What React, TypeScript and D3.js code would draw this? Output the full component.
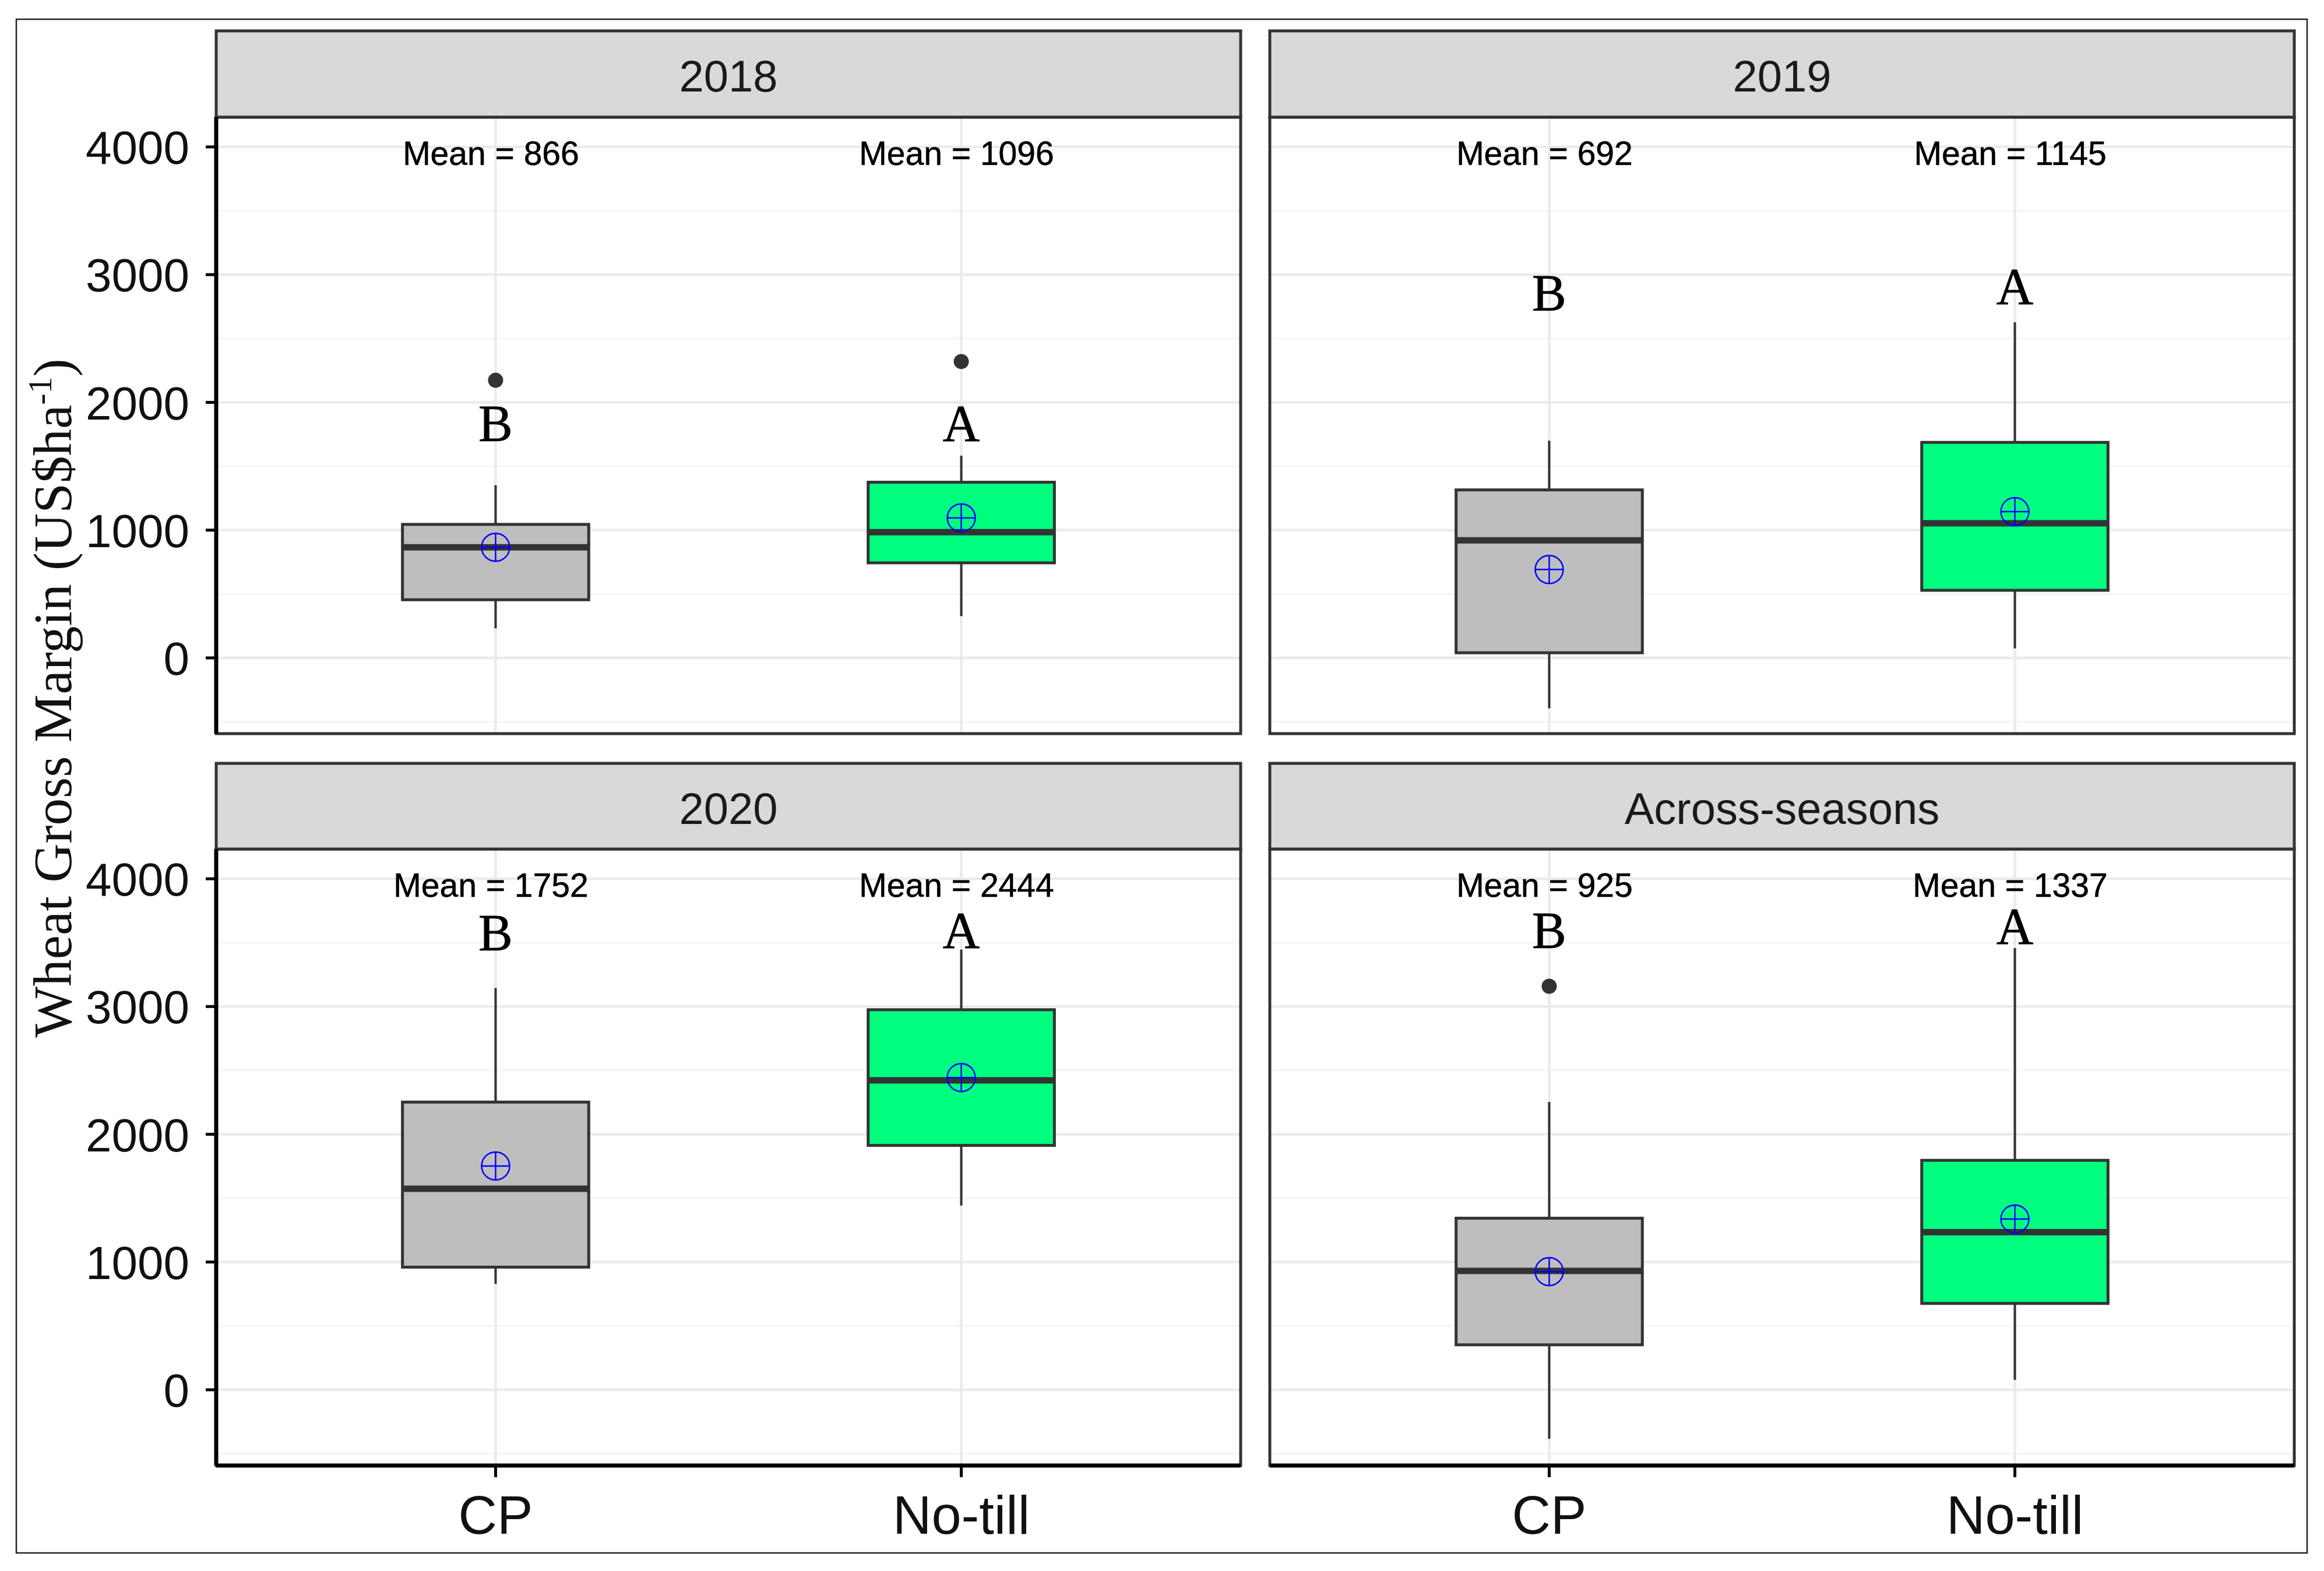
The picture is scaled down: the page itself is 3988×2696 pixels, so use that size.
import React from "react";
import * as d3 from "d3";

// ---------- data ----------
const panels = ["2018", "2019", "2020", "Across-seasons"];
const treatments = ["CP", "No-till"];
const whiskerLow = [[231, 327], [-395, 74], [829, 1442], [-384, 77]];
const q1 = [[455, 744], [40, 529], [960, 1913], [352, 676]];
const median = [[865, 984], [920, 1054], [1574, 2422], [930, 1234]];
const q3 = [[1045, 1375], [1315, 1687], [2252, 2975], [1343, 1796]];
const whiskerHigh = [[1352, 1583], [1700, 2627], [3145, 3446], [2253, 3458]];
const means = [[866, 1096], [692, 1145], [1752, 2444], [925, 1337]];
const outliers = [[[2173], [2320]], [[], []], [[], []], [[3159], []]];
const letters = [["B", "A"], ["B", "A"], ["B", "A"], ["B", "A"]];
const letterY = [[1830, 1830], [2850, 2900], [3570, 3590], [3590, 3620]];
const meanLabelY = 3950;
const yTicks = [0, 1000, 2000, 3000, 4000];
const yMinor = [-500, 500, 1500, 2500, 3500];
const yDomain = [-593, 4233];

// ---------- layout / style ----------
const W = 3988, H = 2696;
const cols = [[371, 2129], [2179, 3937]];
const rows = [{ strip: [53, 201], panel: [201, 1259] }, { strip: [1310, 1457], panel: [1457, 2515] }];
const fills = ["#bebebe", "#00ff7f"];
const sans = "'Liberation Sans', Arial, sans-serif";
const serif = "'Liberation Serif', 'Times New Roman', serif";

function Panel({ idx }: { idx: number }) {
  const c = idx % 2, r = Math.floor(idx / 2);
  const [x0, x1] = cols[c];
  const { strip, panel } = rows[r];
  const [py0, py1] = panel;
  const x = d3.scalePoint<string>().domain(treatments).range([x0, x1]).padding(0.6);
  const y = d3.scaleLinear().domain(yDomain).range([py1, py0]);
  const step = x.step();
  const bw = 0.4 * step;
  const isLeft = c === 0, isBottom = r === 1;
  return (
    <g>
      {/* gridlines */}
      {yMinor.map((v) => (
        <line key={"mi" + v} x1={x0} x2={x1} y1={y(v)} y2={y(v)} stroke="#f2f2f2" strokeWidth={2.5} />
      ))}
      {yTicks.map((v) => (
        <line key={"ma" + v} x1={x0} x2={x1} y1={y(v)} y2={y(v)} stroke="#ebebeb" strokeWidth={4.5} />
      ))}
      {treatments.map((t) => (
        <line key={"vx" + t} x1={x(t)} x2={x(t)} y1={py0} y2={py1} stroke="#ebebeb" strokeWidth={4.5} />
      ))}
      {/* boxes */}
      {treatments.map((t, j) => {
        const cx = x(t) as number;
        return (
          <g key={t}>
            <line x1={cx} x2={cx} y1={y(whiskerHigh[idx][j])} y2={y(q3[idx][j])} stroke="#333" strokeWidth={4} />
            <line x1={cx} x2={cx} y1={y(q1[idx][j])} y2={y(whiskerLow[idx][j])} stroke="#333" strokeWidth={4} />
            <rect x={cx - bw / 2} y={y(q3[idx][j])} width={bw} height={y(q1[idx][j]) - y(q3[idx][j])}
              fill={fills[j]} stroke="#333" strokeWidth={5} />
            <line x1={cx - bw / 2} x2={cx + bw / 2} y1={y(median[idx][j])} y2={y(median[idx][j])} stroke="#333" strokeWidth={11} />
            {outliers[idx][j].map((o, k) => (
              <circle key={k} cx={cx} cy={y(o)} r={13} fill="#333" />
            ))}
            <g stroke="#0000ff" strokeWidth={2.5} fill="none">
              <circle cx={cx} cy={y(means[idx][j])} r={24} />
              <line x1={cx - 24} x2={cx + 24} y1={y(means[idx][j])} y2={y(means[idx][j])} />
              <line x1={cx} x2={cx} y1={y(means[idx][j]) - 24} y2={y(means[idx][j]) + 24} />
            </g>
            <text x={cx - 8} y={y(meanLabelY) + 20} textAnchor="middle" fontFamily={sans} fontSize={57} fill="#000"
              stroke="#000" strokeWidth={0.6}>
              {"Mean = " + means[idx][j]}
            </text>
            <text x={cx} y={y(letterY[idx][j]) + 28} textAnchor="middle" fontFamily={serif} fontSize={88} fill="#000"
              stroke="#000" strokeWidth={0.8}>
              {letters[idx][j]}
            </text>
          </g>
        );
      })}
      {/* panel border */}
      <rect x={x0} y={py0} width={x1 - x0} height={py1 - py0} fill="none" stroke="#333" strokeWidth={5} />
      {/* strip */}
      <rect x={x0} y={strip[0]} width={x1 - x0} height={strip[1] - strip[0]} fill="#d9d9d9" stroke="#333" strokeWidth={5} />
      <text x={(x0 + x1) / 2} y={(strip[0] + strip[1]) / 2 + 30} textAnchor="middle" fontFamily={sans} fontSize={76} fill="#1a1a1a">
        {panels[idx]}
      </text>
      {/* axes */}
      {isLeft && (
        <g>
          <line x1={x0} x2={x0} y1={py0} y2={py1} stroke="#000" strokeWidth={7} />
          {yTicks.map((v) => (
            <g key={"t" + v}>
              <line x1={x0 - 18} x2={x0} y1={y(v)} y2={y(v)} stroke="#000" strokeWidth={5} />
              <text x={x0 - 46} y={y(v) + 29} textAnchor="end" fontFamily={sans} fontSize={80} fill="#111">
                {v}
              </text>
            </g>
          ))}
        </g>
      )}
      {isBottom && (
        <g>
          <line x1={x0} x2={x1} y1={py1} y2={py1} stroke="#000" strokeWidth={7} />
          {treatments.map((t) => (
            <g key={"xt" + t}>
              <line x1={x(t)} x2={x(t)} y1={py1} y2={py1 + 20} stroke="#000" strokeWidth={5} />
              <text x={x(t)} y={2632} textAnchor="middle" fontFamily={sans} fontSize={92} fill="#111">
                {t}
              </text>
            </g>
          ))}
        </g>
      )}
    </g>
  );
}

export default function App() {
  return (
    <svg width={W} height={H} viewBox={`0 0 ${W} ${H}`} style={{ position: "absolute", left: 0, top: 0, background: "#fff" }}>
      <rect x={0} y={0} width={W} height={H} fill="#fff" />
      <rect x={28} y={33} width={3931} height={2632} fill="none" stroke="#222" strokeWidth={2.5} />
      {panels.map((p, i) => (
        <Panel key={p} idx={i} />
      ))}
      <text transform="translate(122,1198) rotate(-90)" textAnchor="middle" fontFamily={serif} fontSize={93} fill="#111">
        <tspan>Wheat Gross Margin (US$ha</tspan>
        <tspan dy={-34} fontSize={58}>-1</tspan>
        <tspan dy={34}>)</tspan>
      </text>
    </svg>
  );
}
